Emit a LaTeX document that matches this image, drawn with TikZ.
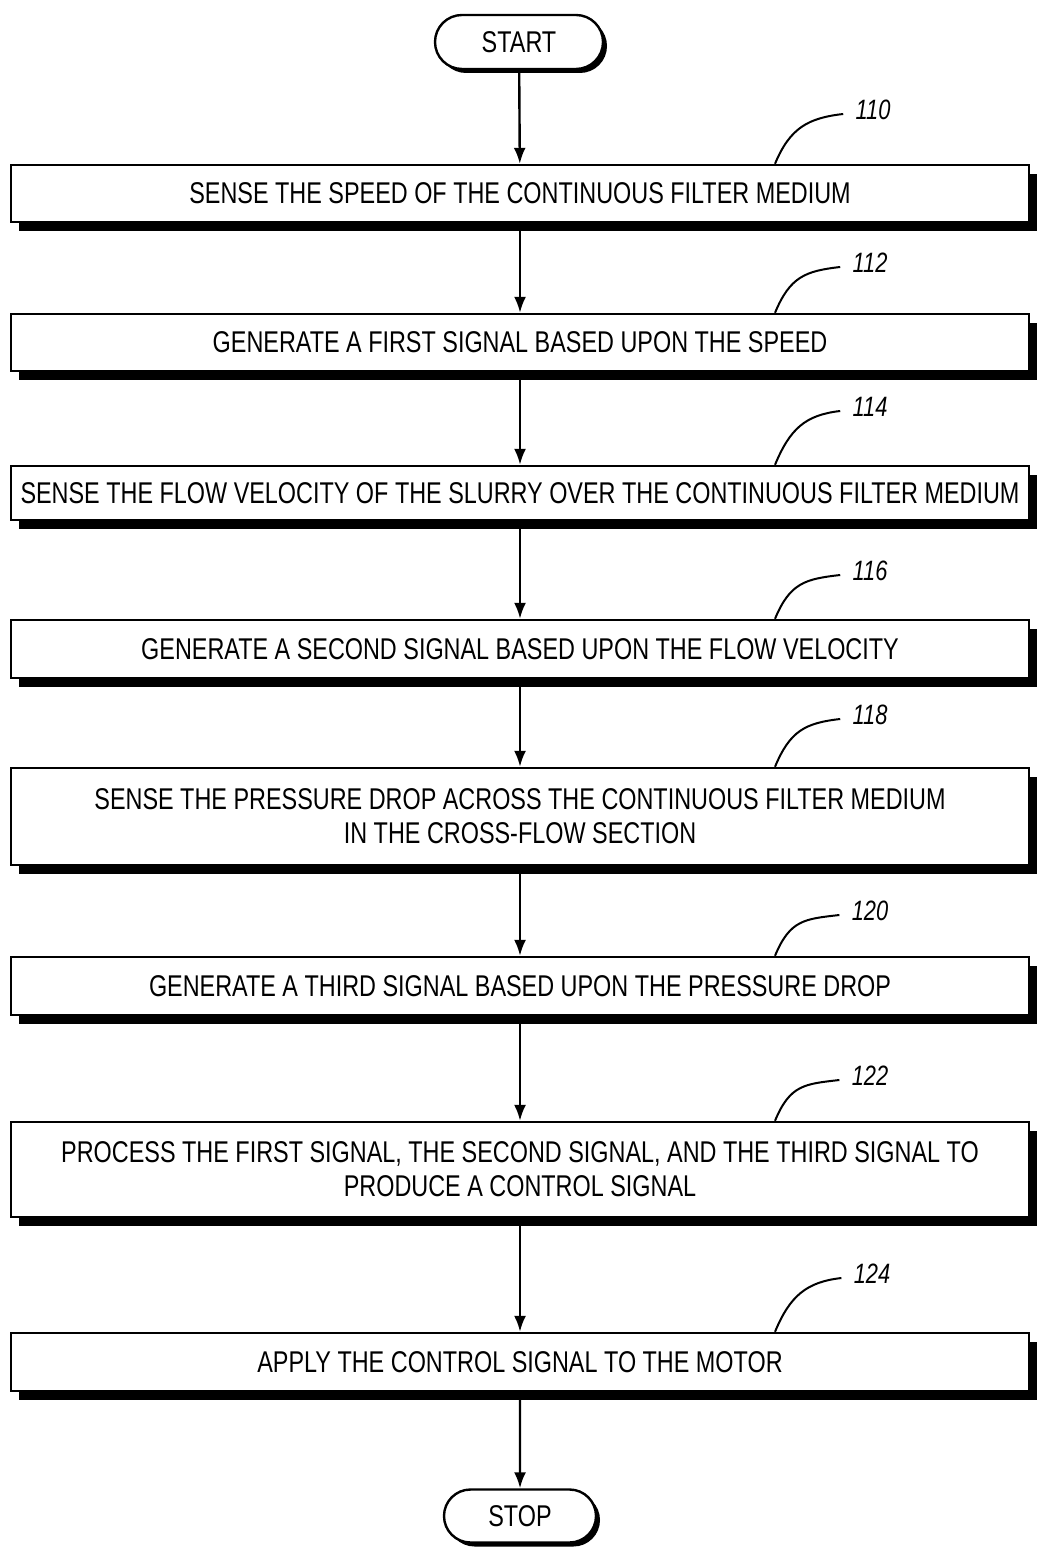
\documentclass[tikz,border=0pt]{standalone}
\usepackage{fontspec}
\setmainfont{Liberation Sans}[FakeStretch=0.78]
\usetikzlibrary{arrows.meta,shadows,shapes.misc}
\begin{document}
\begin{tikzpicture}[x=0.5pt,y=-0.5pt,
  stepbox/.style={draw, line width=1.2pt, fill=white, minimum width=509pt, inner sep=0pt, align=center,
    font=\fontsize{15}{17}\selectfont,
    drop shadow={shadow xshift=4pt, shadow yshift=-4.5pt, fill=black, opacity=1}},
  term/.style={draw, line width=1.2pt, fill=white, rounded rectangle, inner sep=0pt,
    font=\fontsize{15}{17}\selectfont,
    drop shadow={shadow xshift=2pt, shadow yshift=-2pt, fill=black, opacity=1}},
  arr/.style={line width=1.2pt, -{Latex[length=8pt,width=6pt]}},
  lead/.style={line width=1pt},
  lbl/.style={font=\itshape\fontsize{14}{14}\selectfont, inner sep=0pt}
]
\useasboundingbox (0,0) rectangle (1037,1550);

\node[term, minimum width=84pt, minimum height=27pt] (start) at (519,42) {START};
\node[stepbox, minimum height=28.5pt] (b110) at (520,193.5) {SENSE THE SPEED OF THE CONTINUOUS FILTER MEDIUM};
\node[stepbox, minimum height=28.5pt] (b112) at (520,342.5) {GENERATE A FIRST SIGNAL BASED UPON THE SPEED};
\node[stepbox, minimum height=27pt] (b114) at (520,493) {SENSE THE FLOW VELOCITY OF THE SLURRY OVER THE CONTINUOUS FILTER MEDIUM};
\node[stepbox, minimum height=29pt] (b116) at (520,649) {GENERATE A SECOND SIGNAL BASED UPON THE FLOW VELOCITY};
\node[stepbox, minimum height=48.5pt] (b118) at (520,816.5) {SENSE THE PRESSURE DROP ACROSS THE CONTINUOUS FILTER MEDIUM\\IN THE CROSS-FLOW SECTION};
\node[stepbox, minimum height=29pt] (b120) at (520,986) {GENERATE A THIRD SIGNAL BASED UPON THE PRESSURE DROP};
\node[stepbox, minimum height=47.5pt] (b122) at (520,1169.5) {PROCESS THE FIRST SIGNAL, THE SECOND SIGNAL, AND THE THIRD SIGNAL TO\\PRODUCE A CONTROL SIGNAL};
\node[stepbox, minimum height=29pt] (b124) at (520,1362) {APPLY THE CONTROL SIGNAL TO THE MOTOR};
\node[term, minimum width=76pt, minimum height=26.5pt] (stop) at (520,1516) {STOP};

\draw[arr] (start) -- (b110);
\draw[arr] (b110) -- (b112);
\draw[arr] (b112) -- (b114);
\draw[arr] (b114) -- (b116);
\draw[arr] (b116) -- (b118);
\draw[arr] (b118) -- (b120);
\draw[arr] (b120) -- (b122);
\draw[arr] (b122) -- (b124);
\draw[arr] (b124) -- (stop);

\foreach \b/\lx/\ly in {110/873/110, 112/870/263, 114/870/407, 116/870/571, 118/870/715, 120/870/911, 122/870/1076, 124/872/1274}{
  \node[lbl] (l\b) at (\lx,\ly) {\b};
  \draw[lead] ([xshift=127.5pt]b\b.north) .. controls +(7.5pt,18pt) and +(-17.5pt,-2pt) .. ([xshift=-6pt,yshift=-2pt]l\b.west);
}
\end{tikzpicture}
\end{document}
